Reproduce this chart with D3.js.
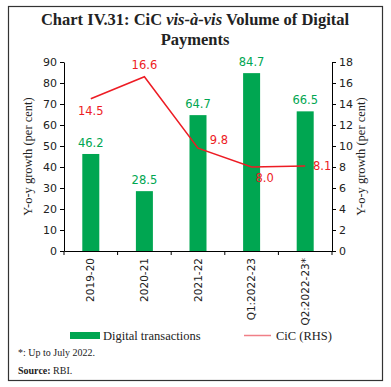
<!DOCTYPE html>
<html>
<head>
<meta charset="utf-8">
<script src="https://cdn.jsdelivr.net/npm/d3@7"></script>
<style>
  body { margin: 0; background: #fff; }
  svg text { font-family: "DejaVu Sans", Verdana, sans-serif; }
  svg text.serif { font-family: "Liberation Serif", "DejaVu Serif", serif; }
</style>
</head>
<body>
<div id="chart"></div>
<script>
var categories = ["2019-20", "2020-21", "2021-22", "Q1:2022-23", "Q2:2022-23*"];
var digital    = [46.2, 28.5, 64.7, 84.7, 66.5];
var cic        = [14.5, 16.6, 9.8, 8.0, 8.1];
var leftTicks  = [0, 10, 20, 30, 40, 50, 60, 70, 80, 90];
var rightTicks = [0, 2, 4, 6, 8, 10, 12, 14, 16, 18];
// where each CiC label sits relative to its point
var cicLabelPos = [[0, 16], [0, -8], [21, -4], [13, 15], [17, 4]];

var W = 391, H = 387;
var green = "#00a651", red = "#ed1c24";

var svg = d3.select("#chart").append("svg").attr("width", W).attr("height", H);

// frame
svg.append("rect").attr("x", 8.5).attr("y", 6.5).attr("width", 374).attr("height", 374)
    .attr("fill", "none").attr("stroke", "#333").attr("stroke-width", 1.2);

// title
var title = svg.append("text").attr("class", "serif").attr("text-anchor", "middle")
    .attr("font-weight", "bold").attr("font-size", 16.5).attr("fill", "#222");
title.append("tspan").attr("x", 195).attr("y", 25).text("Chart IV.31: CiC ");
title.append("tspan").attr("font-style", "italic").text("vis-à-vis");
title.append("tspan").text(" Volume of Digital");
title.append("tspan").attr("x", 195).attr("y", 45).text("Payments");

var pLeft = 64, pRight = 332, pTop = 62, pBottom = 251;

var xb = d3.scaleBand().domain(categories).range([pLeft, pRight]);
var yL = d3.scaleLinear().domain([0, 90]).range([pBottom, pTop]);
var yR = d3.scaleLinear().domain([0, 18]).range([pBottom, pTop]);
var cx = function(d, i) { return xb(categories[i]) + xb.bandwidth() / 2; };

// bars
svg.selectAll(".bar").data(digital).enter().append("rect")
    .attr("x", function(d, i) { return cx(d, i) - 8.5; })
    .attr("width", 17)
    .attr("y", function(d) { return yL(d); })
    .attr("height", function(d) { return pBottom - yL(d); })
    .attr("fill", green);

svg.selectAll(".blab").data(digital).enter().append("text")
    .attr("x", cx)
    .attr("y", function(d) { return yL(d) - 7; })
    .attr("text-anchor", "middle").attr("font-size", 11.5).attr("fill", green)
    .text(function(d) { return d.toFixed(1); });

// CiC line
svg.append("path").datum(cic)
    .attr("d", d3.line().x(cx).y(function(d) { return yR(d); }))
    .attr("fill", "none").attr("stroke", red).attr("stroke-width", 1.5);

svg.selectAll(".clab").data(cic).enter().append("text")
    .attr("x", function(d, i) { return cx(d, i) + cicLabelPos[i][0]; })
    .attr("y", function(d, i) { return yR(d) + cicLabelPos[i][1]; })
    .attr("text-anchor", "middle").attr("font-size", 11.5).attr("fill", red)
    .text(function(d) { return d.toFixed(1); });

// axes
var gL = svg.append("g").attr("transform", "translate(" + pLeft + ",0)")
    .call(d3.axisLeft(yL).tickValues(leftTicks).tickSize(4).tickSizeOuter(0));
var gR = svg.append("g").attr("transform", "translate(" + pRight + ",0)")
    .call(d3.axisRight(yR).tickValues(rightTicks).tickSize(4).tickSizeOuter(0));
var gB = svg.append("g").attr("transform", "translate(0," + pBottom + ")")
    .call(d3.axisBottom(xb).tickSize(0).tickSizeOuter(0));

[gL, gR].forEach(function(g) {
    g.selectAll("text").attr("font-size", 11).attr("fill", "#222")
        .style("font-family", "'DejaVu Sans', Verdana, sans-serif");
    g.selectAll("line, path").attr("stroke", "#000");
});
gB.select(".domain").attr("stroke", "#000");
gB.selectAll(".tick text")
    .attr("transform", "rotate(-90)")
    .attr("text-anchor", "end").attr("x", -7).attr("y", 0).attr("dy", "0.35em")
    .attr("font-size", 10.5).attr("fill", "#222")
    .style("font-family", "'DejaVu Sans', Verdana, sans-serif");
// boundary ticks between categories
svg.selectAll(".bt").data(d3.range(categories.length + 1)).enter().append("line")
    .attr("x1", function(i) { return pLeft + i * xb.step(); })
    .attr("x2", function(i) { return pLeft + i * xb.step(); })
    .attr("y1", pBottom).attr("y2", pBottom + 4).attr("stroke", "#000");

// axis titles
svg.append("text").attr("class", "serif").attr("font-size", 12.5).attr("fill", "#222")
    .attr("text-anchor", "middle")
    .attr("transform", "translate(32," + (pTop + pBottom) / 2 + ") rotate(-90)")
    .text("Y-o-y growth (per cent)");
svg.append("text").attr("class", "serif").attr("font-size", 12.5).attr("fill", "#222")
    .attr("text-anchor", "middle")
    .attr("transform", "translate(365," + (pTop + pBottom) / 2 + ") rotate(-90)")
    .text("Y-o-y growth (per cent)");

// legend
svg.append("rect").attr("x", 70).attr("y", 332).attr("width", 30).attr("height", 7).attr("fill", green);
svg.append("text").attr("class", "serif").attr("x", 103).attr("y", 340).attr("font-size", 12.5)
    .attr("fill", "#222").text("Digital transactions");
svg.append("line").attr("x1", 244).attr("x2", 271).attr("y1", 335.5).attr("y2", 335.5)
    .attr("stroke", "#f07f87").attr("stroke-width", 1.5);
svg.append("text").attr("class", "serif").attr("x", 276).attr("y", 340).attr("font-size", 12.5)
    .attr("fill", "#222").text("CiC (RHS)");

// notes
svg.append("text").attr("class", "serif").attr("x", 18).attr("y", 356).attr("font-size", 10)
    .attr("fill", "#222").text("*: Up to July 2022.");
var src = svg.append("text").attr("class", "serif").attr("x", 18).attr("y", 374)
    .attr("font-size", 10).attr("fill", "#222");
src.append("tspan").attr("font-weight", "bold").text("Source:");
src.append("tspan").text(" RBI.");
</script>
</body>
</html>
